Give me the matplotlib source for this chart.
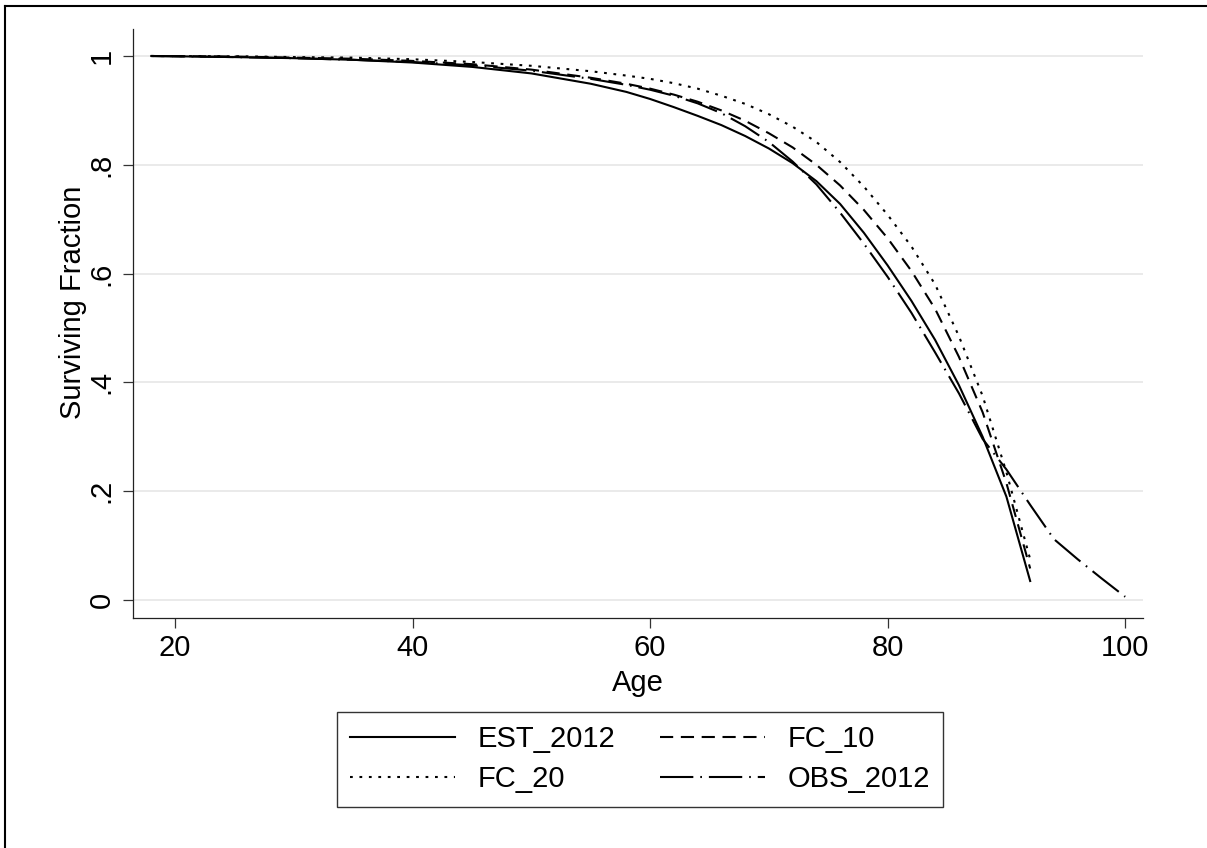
import matplotlib
matplotlib.use("Agg")
import matplotlib.pyplot as plt
from matplotlib.lines import Line2D

# survival curves
ages = [18, 20, 25, 30, 35, 40, 45, 50, 55, 58, 60, 62, 64, 66, 68, 70, 72, 74, 76, 78, 80, 82,
        84, 86, 88, 90, 92]
est_2012 = [1.000, 0.9995, 0.998, 0.996, 0.993, 0.988, 0.980, 0.968, 0.949, 0.934, 0.921, 0.906,
            0.890, 0.873, 0.853, 0.830, 0.803, 0.770, 0.728, 0.675, 0.615, 0.550, 0.478, 0.395,
            0.300, 0.190, 0.035]
fc_10 = [1.000, 0.9997, 0.999, 0.997, 0.995, 0.991, 0.985, 0.975, 0.960, 0.949, 0.940, 0.929,
         0.916, 0.900, 0.881, 0.858, 0.832, 0.800, 0.762, 0.717, 0.665, 0.605, 0.535, 0.447,
         0.345, 0.215, 0.058]
fc_20 = [1.000, 0.9998, 0.9995, 0.998, 0.997, 0.994, 0.989, 0.982, 0.972, 0.964, 0.958, 0.950,
         0.940, 0.927, 0.912, 0.893, 0.870, 0.842, 0.805, 0.760, 0.708, 0.650, 0.580, 0.485,
         0.375, 0.235, 0.075]

ages_obs = [18, 20, 25, 30, 35, 40, 45, 50, 55, 58, 60, 62, 64, 66, 68, 70, 72, 74, 76, 78, 80,
            82, 84, 86, 88, 90, 92, 94, 96, 98, 100]
obs_2012 = [1.000, 0.9995, 0.998, 0.996, 0.993, 0.989, 0.983, 0.973, 0.958, 0.947, 0.938, 0.927,
            0.913, 0.895, 0.871, 0.842, 0.806, 0.764, 0.712, 0.655, 0.594, 0.528, 0.455, 0.380,
            0.296, 0.240, 0.175, 0.112, 0.075, 0.040, 0.006]

xticks = [20, 40, 60, 80, 100]
yticks = [0, 0.2, 0.4, 0.6, 0.8, 1]
ytick_labels = ["0", ".2", ".4", ".6", ".8", "1"]

plt.rcParams["font.family"] = ["Liberation Sans", "DejaVu Sans"]
plt.rcParams["lines.scale_dashes"] = False
fs = 21

W, H = 1207, 848
fig = plt.figure(figsize=(W / 100, H / 100), dpi=100)

y_lo, y_hi = -0.033, 1.05
ax = fig.add_axes([133 / W, 1 - 618 / H, (1143 - 133) / W, (618 - 28.8) / H])

lw = 1.5
l_est, = ax.plot(ages, est_2012, color="black", lw=lw, label="EST_2012")
l_fc10, = ax.plot(ages, fc_10, color="black", lw=lw, dashes=(9.5, 5.5), label="FC_10")
l_fc20, = ax.plot(ages, fc_20, color="black", lw=lw, dashes=(2.0, 4.8), label="FC_20")
l_obs, = ax.plot(ages_obs, obs_2012, color="black", lw=lw, dashes=(24, 5, 1.2, 5), label="OBS_2012")

ax.set_xlim(16.46, 101.5)
ax.set_ylim(y_lo, y_hi)
ax.set_xticks(xticks)
ax.set_yticks(yticks)
ax.set_yticklabels(ytick_labels, rotation=90, va="center")
ax.tick_params(axis="both", direction="out", length=7.5, width=0.9, labelsize=fs, color="#333333")
ax.tick_params(axis="x", pad=4)
ax.tick_params(axis="y", pad=5)

ax.grid(axis="y", color="#e8e8e8", lw=1.3)
ax.set_axisbelow(True)
for s in ["top", "right"]:
    ax.spines[s].set_visible(False)
for s in ["left", "bottom"]:
    ax.spines[s].set_linewidth(0.9)
    ax.spines[s].set_color("#222222")

ax.set_xlabel("Age", fontsize=fs, labelpad=5)
ax.set_ylabel("Surviving Fraction", fontsize=fs)
ax.yaxis.set_label_coords(-0.046, 0.536)

leg = fig.legend([l_est, l_fc20, l_fc10, l_obs], ["EST_2012", "FC_20", "FC_10", "OBS_2012"],
                 ncol=2, loc="upper center", bbox_to_anchor=(640 / W, 1 - 712 / H),
                 borderaxespad=0, fontsize=fs, frameon=True, fancybox=False,
                 handlelength=3.6, handletextpad=0.8, columnspacing=1.5,
                 labelspacing=0.42, borderpad=0.45)
leg.get_frame().set_edgecolor("black")
leg.get_frame().set_linewidth(1.0)

# outer frame of the graph
fig.add_artist(Line2D([5 / W, 5 / W], [0, 1 - 6 / H], transform=fig.transFigure, color="black", lw=1.5))
fig.add_artist(Line2D([5 / W, 1], [1 - 6 / H, 1 - 6 / H], transform=fig.transFigure, color="black", lw=1.5))

fig.savefig("out.png", dpi=100)
